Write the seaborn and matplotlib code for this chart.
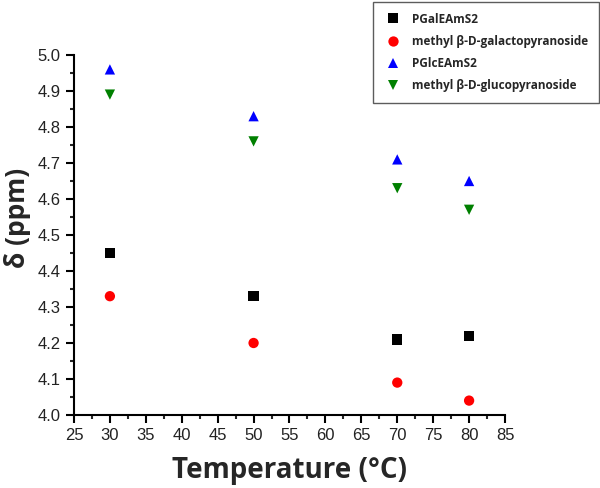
import pandas as pd
import numpy as np
import seaborn as sns
import matplotlib.pyplot as plt
from matplotlib.ticker import MultipleLocator

# data
temps = [30, 50, 70, 80]
pgal = [4.45, 4.33, 4.21, 4.22]
me_gal = [4.33, 4.20, 4.09, 4.04]
pglc = [4.96, 4.83, 4.71, 4.65]
me_glc = [4.89, 4.76, 4.63, 4.57]
names = ["PGalEAmS2", "methyl β-D-galactopyranoside", "PGlcEAmS2", "methyl β-D-glucopyranoside"]

df = pd.DataFrame({
    "Temperature": temps * 4,
    "shift": pgal + me_gal + pglc + me_glc,
    "series": np.repeat(names, len(temps)),
})

sns.set_style("ticks")
plt.rcParams['font.family'] = ['Liberation Sans', 'DejaVu Sans']

fig = plt.figure(figsize=(6, 4.88), dpi=100)
ax = fig.add_axes([0.1233, 0.1496, 0.7184, 0.7377])

sns.scatterplot(data=df, x="Temperature", y="shift", hue="series", style="series",
                hue_order=names, style_order=names,
                palette=["black", "red", "blue", "green"],
                markers=["s", "o", "^", "v"], s=55, linewidth=0, ax=ax)

ax.set_xlim(25, 85)
ax.set_ylim(4.0, 5.0)
ax.xaxis.set_major_locator(MultipleLocator(5))
ax.xaxis.set_minor_locator(MultipleLocator(2.5))
ax.yaxis.set_major_locator(MultipleLocator(0.1))
ax.yaxis.set_minor_locator(MultipleLocator(0.05))
ax.tick_params(which="major", length=6, width=1.5, direction="out", labelsize=12,
               colors="black", labelcolor="#222222")
ax.tick_params(which="minor", length=3, width=1.5, direction="out")
for side in ["left", "bottom"]:
    ax.spines[side].set_linewidth(1.5)
    ax.spines[side].set_color("black")
sns.despine(ax=ax)

ax.set_xlabel("Temperature (°C)", fontsize=20, fontweight="bold", family=["Open Sans", "DejaVu Sans"])
ax.set_ylabel("δ (ppm)", fontsize=19, fontweight="bold", family=["Open Sans", "DejaVu Sans"])
ax.xaxis.set_label_coords(0.5, -0.115)
ax.yaxis.set_label_coords(-0.1, 0.547)

leg = ax.legend(loc="upper left", bbox_to_anchor=(0.622, 0.996), bbox_transform=fig.transFigure,
                borderaxespad=0, frameon=True, fancybox=False,
                prop={"family": "Open Sans", "weight": "bold", "size": 8.5},
                handletextpad=0.8, borderpad=0.9, labelspacing=0.78, handlelength=1.6)
leg.get_frame().set_edgecolor("#333333")
leg.get_frame().set_linewidth(1.0)

fig.savefig("out.png", dpi=100)
